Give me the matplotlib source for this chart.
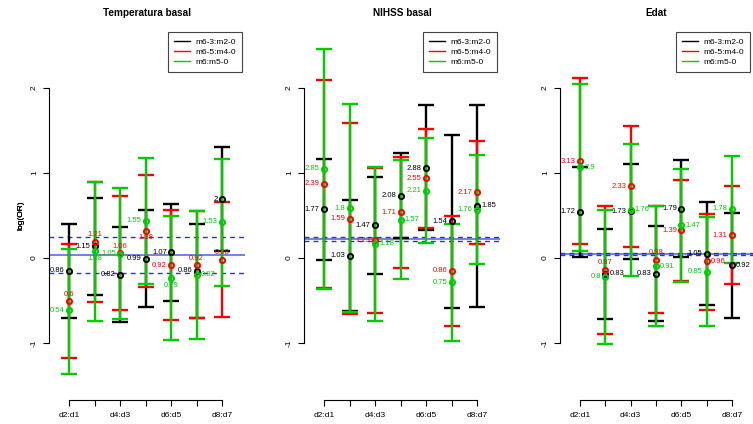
import numpy as np
import matplotlib
matplotlib.use('Agg')
import matplotlib.pyplot as plt
from matplotlib.lines import Line2D

plt.rcParams['font.family'] = ['Liberation Sans', 'DejaVu Sans']

# comparisons on the x axis (R only printed every other label)
comparisons = ['d2:d1', 'd3:d2', 'd4:d3', 'd5:d4', 'd6:d5', 'd7:d6', 'd8:d7']
shown_labels = ['d2:d1', '', 'd4:d3', '', 'd6:d5', '', 'd8:d7']
series_names = ['m6-3:m2-0', 'm6-5:m4-0', 'm6:m5-0']
titles = ['Temperatura basal', 'NIHSS basal', 'Edat']

# ---- Temperatura basal ----
temp_black_or = [0.86, 1.15, 0.82, 0.99, 1.07, 0.86, 2]
temp_black_lo = [-0.71, -0.43, -0.75, -0.58, -0.51, -0.71, 0.08]
temp_black_hi = [0.40, 0.71, 0.36, 0.56, 0.64, 0.40, 1.30]
temp_red_or = [0.6, 1.21, 1.06, 1.38, 0.92, 0.92, 0.98]
temp_red_lo = [-1.18, -0.52, -0.615, -0.34, -0.73, -0.71, -0.69]
temp_red_hi = [0.165, 0.89, 0.73, 0.98, 0.565, 0.555, 0.655]
temp_green_or = [0.54, 1.08, 1.05, 1.55, 0.79, 0.82, 1.53]
temp_green_lo = [-1.36, -0.74, -0.72, -0.30, -0.96, -0.95, -0.33]
temp_green_hi = [0.11, 0.90, 0.82, 1.18, 0.494, 0.556, 1.17]
temp_hline = 0.039
temp_dashed = [0.247, -0.173]

# ---- NIHSS basal ----
nihss_black_or = [1.77, 1.03, 1.47, 2.08, 2.88, 1.54, 1.85]
nihss_black_lo = [-0.025, -0.62, -0.19, 0.235, 0.326, -0.59, -0.575]
nihss_black_hi = [1.168, 0.68, 0.956, 1.23, 1.796, 1.447, 1.80]
nihss_red_or = [2.39, 1.59, 1.23, 1.71, 2.55, 0.86, 2.17]
nihss_red_lo = [-0.355, -0.66, -0.643, -0.114, 0.35, -0.80, 0.168]
nihss_red_hi = [2.094, 1.59, 1.057, 1.19, 1.514, 0.494, 1.38]
nihss_green_or = [2.85, 1.8, 1.18, 1.57, 2.21, 0.75, 1.76]
nihss_green_lo = [-0.36, -0.636, -0.737, -0.25, 0.18, -0.976, -0.075]
nihss_green_hi = [2.459, 1.81, 1.067, 1.15, 1.41, 0.404, 1.208]
nihss_hline = 0.222
nihss_dashed = [0.245, 0.198]

# ---- Edat ----
edat_black_or = [1.72, 0.83, 1.73, 0.83, 1.79, 1.05, 0.92]
edat_black_lo = [0.01, -0.714, -0.012, -0.746, 0.008, -0.55, -0.70]
edat_black_hi = [1.074, 0.337, 1.106, 0.376, 1.153, 0.655, 0.533]
edat_red_or = [3.13, 0.87, 2.33, 0.98, 1.39, 0.96, 1.31]
edat_red_lo = [0.163, -0.896, 0.133, -0.645, -0.265, -0.615, -0.31]
edat_red_hi = [2.114, 0.615, 1.556, 0.61, 0.918, 0.515, 0.85]
edat_green_or = [2.9, 0.8, 1.76, 0.91, 1.47, 0.85, 1.78]
edat_green_lo = [0.08, -1.015, -0.215, -0.805, -0.278, -0.80, -0.053]
edat_green_hi = [2.047, 0.565, 1.345, 0.61, 1.047, 0.486, 1.204]
edat_hline = 0.045
edat_dashed = [0.055, 0.035]

# where each OR label sits relative to its point (l/r/a/b)
temp_pos = [list('lllllll'), list('aaablaa'), list('lbllbrl')]
nihss_pos = [list('llllllr'), list('lllllll'), list('llrrlll')]
edat_pos = [list('lrllllr'), list('lalalrl'), list('rlrrrll')]

colors = ['black', '#ff0000', '#00cd00']
offsets = {'l': ((-3, 0), 'right', 'center'), 'r': ((3, 0), 'left', 'center'),
           'a': ((0, 2.5), 'center', 'bottom'), 'b': ((0, -2.5), 'center', 'top')}

panels = [
    (titles[0], [(temp_black_or, temp_black_lo, temp_black_hi),
                 (temp_red_or, temp_red_lo, temp_red_hi),
                 (temp_green_or, temp_green_lo, temp_green_hi)],
     temp_hline, temp_dashed, temp_pos),
    (titles[1], [(nihss_black_or, nihss_black_lo, nihss_black_hi),
                 (nihss_red_or, nihss_red_lo, nihss_red_hi),
                 (nihss_green_or, nihss_green_lo, nihss_green_hi)],
     nihss_hline, nihss_dashed, nihss_pos),
    (titles[2], [(edat_black_or, edat_black_lo, edat_black_hi),
                 (edat_red_or, edat_red_lo, edat_red_hi),
                 (edat_green_or, edat_green_lo, edat_green_hi)],
     edat_hline, edat_dashed, edat_pos),
]

W, H = 753, 424
fig = plt.figure(figsize=(W / 100, H / 100), dpi=100)
# pixel frames of the three plot regions: left, right, first tick, last tick
frames = [(49, 245, 69, 222), (304, 500, 324, 477), (560, 753, 580, 732)]
x = np.arange(1, len(comparisons) + 1)
top_px, bot_px = 30, 400

for (l, r, x1, x7), (title, series, hline, dashed, pos) in zip(frames, panels):
    ax = fig.add_axes([l / W, (H - bot_px) / H, (r - l) / W, (bot_px - top_px) / H])
    ppu = (x7 - x1) / 6
    ax.set_xlim(1 - (x1 - l) / ppu, 7 + (r - x7) / ppu)
    ax.set_ylim(-1.67, 2.682)

    # error bars: black, then red, then green on top
    for (orv, lo, hi), c in zip(series, colors):
        est = np.log(orv)
        lo = np.array(lo)
        hi = np.array(hi)
        ax.errorbar(x, est, yerr=[est - lo, hi - est], fmt='none', ecolor=c,
                    elinewidth=1.7, capsize=5.8, capthick=1.7, zorder=2)

    ax.axhline(hline, color='#5b6de0', lw=1.2, zorder=1.5)
    for d in dashed:
        ax.axhline(d, color='#2a2aff', lw=1, ls=(0, (3.5, 3)), zorder=1.5)

    for (orv, lo, hi), c, p in zip(series, colors, pos):
        est = np.log(orv)
        ax.plot(x, est, 'o', ms=3.7, mfc='none', mec=c, mew=1.4, zorder=4)
        for xi, yi, v, pp in zip(x, est, orv, p):
            off, ha, va = offsets[pp]
            ax.annotate('%g' % v, (xi, yi), xytext=off, textcoords='offset points',
                        ha=ha, va=va, color=c, fontsize=5.5, zorder=5)

    for s in ['top', 'right']:
        ax.spines[s].set_visible(False)
    ax.spines['left'].set_bounds(-1, 2)
    ax.spines['bottom'].set_bounds(1, 7)
    ax.set_yticks([-1, 0, 1, 2])
    ax.set_yticklabels(['-1', '0', '1', '2'], rotation=90, va='center')
    ax.set_xticks(x)
    ax.set_xticklabels(shown_labels)
    ax.tick_params(axis='both', labelsize=6, length=4, width=0.8)
    ax.tick_params(axis='x', pad=4.5)
    ax.tick_params(axis='y', pad=4)
    ax.set_ylabel('log(OR)', fontsize=6)
    ax.yaxis.set_label_coords(-(l - 24) / (r - l), 0.5)
    fig.text((l + r) / 2 / W, 1 - 13 / H, title, fontsize=7.2, fontweight='bold',
             ha='center', va='center')

    handles = [Line2D([0], [0], color=c, lw=1) for c in colors]
    leg = ax.legend(handles, series_names, loc='upper right', fontsize=6,
                    fancybox=False, framealpha=1, edgecolor='#444444',
                    bbox_to_anchor=(1 - 3 / (r - l), 1 - 2 / (bot_px - top_px)),
                    borderaxespad=0, handlelength=1.9, handletextpad=0.6,
                    labelspacing=0.25, borderpad=0.75)
    leg.get_frame().set_linewidth(0.8)

fig.savefig('out.png', dpi=100)
